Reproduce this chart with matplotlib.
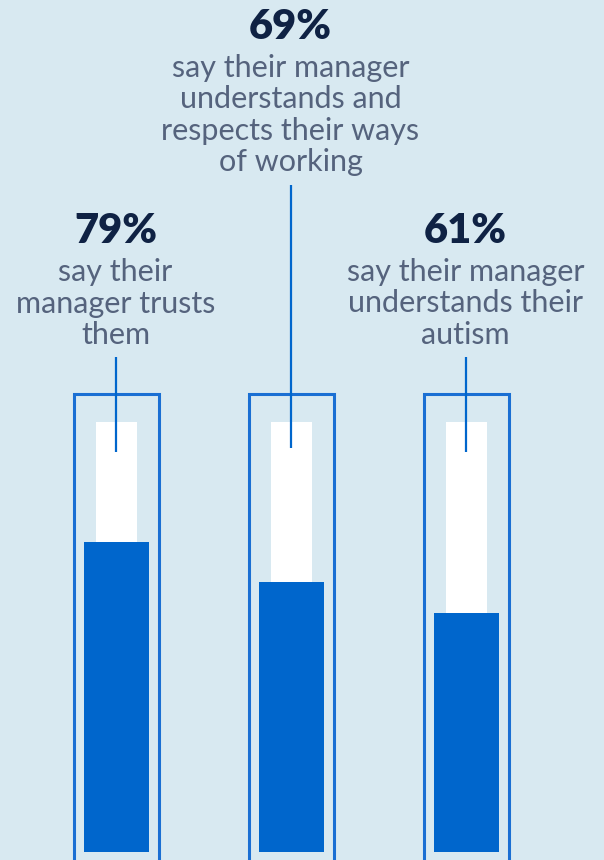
import matplotlib.pyplot as plt
from matplotlib.patches import Rectangle

values = [79, 69, 61]
labels = ['79%', '69%', '61%']
captions = [
    ['say their', 'manager trusts', 'them'],
    ['say their manager', 'understands and', 'respects their ways', 'of working'],
    ['say their manager', 'understands their', 'autism'],
]

bg = '#d8e9f1'
blue = '#0066cc'
edge = '#1a6fd3'
navy = '#0f2244'
grey = '#55637d'

# layout in pixels (figure is 604x860 at dpi 100)
ppp = 3.92          # pixels per percent
base_px = 852       # pixel row of 0%
def y(px):
    return (base_px - px) / ppp

centers = [116.5, 291.5, 466.5]
title_base = [243, 39, 243]
line_top = [357, 185, 357]
line_bot = [452, 448, 452]

fig = plt.figure(figsize=(6.04, 8.6), dpi=100)
fig.patch.set_facecolor(bg)
ax = fig.add_axes([0, 0, 1, 1])
ax.set_facecolor(bg)
ax.set_xlim(0, 604)
ax.set_ylim(y(860), y(0))
ax.axis('off')

for i, v in enumerate(values):
    cx = centers[i]
    # outer outline
    ax.add_patch(Rectangle((cx - 42.5, y(870)), 85, y(394) - y(870),
                           facecolor='none', edgecolor=edge, lw=2.2))
    # white tube
    ax.add_patch(Rectangle((cx - 20.5, 0), 41, y(422),
                           facecolor='white', edgecolor='none'))
    # value bar
    ax.bar(cx, v, width=65, bottom=0, color=blue, zorder=3)
    # connector
    ax.plot([cx - 0.5, cx - 0.5], [y(line_top[i]), y(line_bot[i])],
            color=blue, lw=1.6, solid_capstyle='butt', zorder=4)
    # labels
    ax.text(cx - 1, y(title_base[i]), labels[i], ha='center', va='baseline',
            fontsize=30, fontweight='heavy', family='Lato', color=navy)
    for j, line in enumerate(captions[i]):
        ax.text(cx - 1, y(title_base[i] + 38 + 31.5 * j), line, ha='center',
                va='baseline', fontsize=22, family='Lato', color=grey)

fig.savefig('out.png', dpi=100, facecolor=bg)
